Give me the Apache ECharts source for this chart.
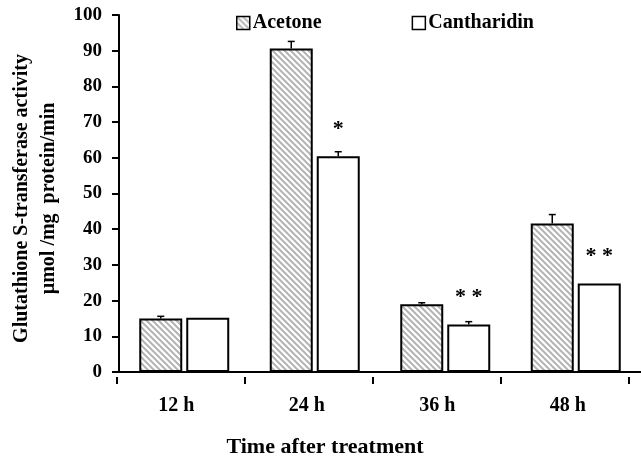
<!DOCTYPE html>
<html>
<head>
<meta charset="utf-8">
<script src="https://cdn.jsdelivr.net/npm/echarts@6/dist/echarts.min.js"></script>
<style>html,body{margin:0;padding:0;background:#fff;}#c{width:641px;height:463px;}</style>
</head>
<body>
<div id="c"></div>
<script>
const categories = ['12 h', '24 h', '36 h', '48 h'];
const acetone = [15.0, 90.6, 19.0, 41.6];
const acetoneErr = [0.6, 2.0, 0.4, 2.5];
const cantharidin = [15.2, 60.4, 13.3, 24.8];
const cantharidinErr = [0, 1.3, 0.8, 0];
const cantharidinSig = ['', '*', '* *', '* *'];
const yTicks = [0, 10, 20, 30, 40, 50, 60, 70, 80, 90, 100];

const FONT = '"Liberation Serif", "Times New Roman", serif';
const BAR_W = 43, GAP_PX = 4;

function hatch() {
  const c = document.createElement('canvas');
  c.width = 6; c.height = 6;
  const g = c.getContext('2d');
  g.fillStyle = '#ffffff'; g.fillRect(0, 0, 6, 6);
  g.strokeStyle = '#b4b4b4'; g.lineWidth = 2;
  g.beginPath();
  g.moveTo(-1, -1); g.lineTo(7, 7);
  g.moveTo(-1, 5); g.lineTo(1, 7);
  g.moveTo(5, -1); g.lineTo(7, 1);
  g.stroke();
  return c;
}
const pattern = { image: hatch(), repeat: 'repeat' };

function errSeries(vals, errs, sign) {
  return {
    type: 'custom', xAxisIndex: 0, yAxisIndex: 0, silent: true, z: 5,
    data: vals.map((v, i) => [i, v, errs[i]]),
    renderItem: function (params, api) {
      const i = api.value(0), v = api.value(1), e = api.value(2);
      if (!e) return null;
      const base = api.coord([i, v]);
      const top = api.coord([i, v + e]);
      const x = base[0] + sign * (BAR_W + GAP_PX) / 2;
      const st = { stroke: '#000', lineWidth: 1.5 };
      return { type: 'group', children: [
        { type: 'line', shape: { x1: x, y1: base[1], x2: x, y2: top[1] }, style: st },
        { type: 'line', shape: { x1: x - 3.5, y1: top[1], x2: x + 3.5, y2: top[1] }, style: st }
      ]};
    }
  };
}

const chart = echarts.init(document.getElementById('c'), null, { renderer: 'canvas' });
chart.setOption({
  backgroundColor: '#fff',
  animation: false,
  textStyle: { fontFamily: FONT },
  legend: {
    left: 231, top: 8, itemWidth: 13, itemHeight: 13, itemGap: 90,
    icon: 'rect',
    textStyle: { fontFamily: FONT, fontWeight: 'bold', fontSize: 20, color: '#000', padding: [0, 0, 0, -2] },
    itemStyle: { borderColor: '#000', borderWidth: 1.5 },
    data: ['Acetone', 'Cantharidin']
  },
  grid: [
    { left: 118, right: -8, top: 15, bottom: 86 },
    { left: 117, right: 12, top: 15, bottom: 86 }
  ],
  xAxis: [
    {
      type: 'category', gridIndex: 0, data: categories,
      axisLine: { lineStyle: { color: '#000', width: 2 } },
      axisTick: { show: false },
      axisLabel: { color: '#000', fontFamily: FONT, fontWeight: 'bold', fontSize: 20, margin: 24, padding: [0, 16, 0, 0] },
      name: 'Time after treatment', nameLocation: 'middle', nameGap: 64,
      nameTextStyle: { color: '#000', fontFamily: FONT, fontWeight: 'bold', fontSize: 22, padding: [0, 110, 0, 0] }
    },
    {
      type: 'category', gridIndex: 1, data: categories,
      axisLine: { show: false },
      axisTick: { show: true, length: 7, lineStyle: { color: '#000', width: 2 } },
      axisLabel: { show: false }
    }
  ],
  yAxis: [
    {
      type: 'value', gridIndex: 0, min: 0, max: 100, interval: 10,
      axisLine: { show: true, lineStyle: { color: '#000', width: 2 } },
      axisTick: { show: true, length: 7, lineStyle: { color: '#000', width: 2 } },
      splitLine: { show: false },
      axisLabel: { color: '#000', fontFamily: FONT, fontWeight: 'bold', fontSize: 19, margin: 17,
        formatter: v => (yTicks.indexOf(v) >= 0 ? String(v) : '') },
      name: 'Glutathione S-transferase activity\n\u00b5mol /mg  protein/min',
      nameLocation: 'middle', nameRotate: 90, nameGap: 57,
      nameTextStyle: { color: '#000', fontFamily: FONT, fontWeight: 'bold', fontSize: 20, lineHeight: 27, padding: [0, 10, 0, 0] }
    },
    { type: 'value', gridIndex: 1, min: 0, max: 100, show: false }
  ],
  series: [
    {
      name: 'Acetone', type: 'bar', xAxisIndex: 0, yAxisIndex: 0,
      barWidth: BAR_W, barGap: (GAP_PX / BAR_W * 100).toFixed(1) + '%',
      data: acetone,
      itemStyle: { color: pattern, borderColor: '#000', borderWidth: 2 }
    },
    {
      name: 'Cantharidin', type: 'bar', xAxisIndex: 0, yAxisIndex: 0,
      barWidth: BAR_W,
      data: cantharidin,
      itemStyle: { color: '#fff', borderColor: '#000', borderWidth: 2 },
      label: {
        show: true, position: 'top', distance: 16,
        formatter: p => cantharidinSig[p.dataIndex],
        color: '#000', fontFamily: FONT, fontWeight: 'bold', fontSize: 22
      }
    },
    errSeries(acetone, acetoneErr, -1),
    errSeries(cantharidin, cantharidinErr, 1)
  ]
});
</script>
</body>
</html>
